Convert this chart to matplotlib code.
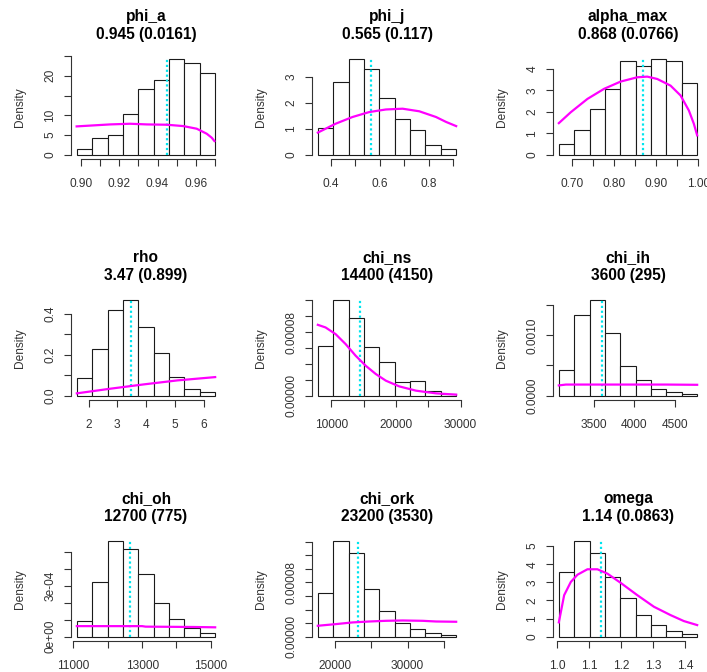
import numpy as np
import matplotlib.pyplot as plt

plt.rcParams['font.family'] = ['Liberation Sans', 'DejaVu Sans']

W, H = 707, 672

params = ['phi_a', 'phi_j', 'alpha_max', 'rho', 'chi_ns', 'chi_ih',
          'chi_oh', 'chi_ork', 'omega']
subtitles = ['0.945 (0.0161)', '0.565 (0.117)', '0.868 (0.0766)', '3.47 (0.899)',
             '14400 (4150)', '3600 (295)', '12700 (775)', '23200 (3530)',
             '1.14 (0.0863)']
post_means = [0.945, 0.565, 0.868, 3.47, 14400, 3600, 12660, 23200, 1.136]

# first and last histogram break (9 equal bins each)
hist_range = [(0.898, 0.970), (0.348, 0.911), (0.6675, 0.9976), (1.593, 6.395),
              (7927, 29326), (3062, 4781), (11098, 15127), (17706, 36651),
              (1.0042, 1.4386)]

# posterior densities
dens_phi_a = [1.35, 4.2, 5.06, 10.3, 16.7, 19.0, 24.3, 23.3, 20.7]
dens_phi_j = [1.01, 2.81, 3.69, 3.31, 2.19, 1.36, 0.96, 0.385, 0.22]
dens_alpha = [0.48, 1.13, 2.11, 3.07, 4.39, 4.14, 4.47, 4.39, 3.35]
dens_rho = [0.0842, 0.23, 0.418, 0.468, 0.337, 0.207, 0.089, 0.032, 0.018]
dens_chi_ns = [6.21e-5, 12.08e-5, 9.81e-5, 6.08e-5, 4.19e-5, 1.68e-5, 1.84e-5, 0.545e-5, 0.21e-5]
dens_chi_ih = [4.23e-4, 1.335e-3, 1.588e-3, 1.044e-3, 4.84e-4, 2.58e-4, 1.04e-4, 5.5e-5, 2.2e-5]
dens_chi_oh = [0.898e-4, 3.22e-4, 5.64e-4, 5.18e-4, 3.69e-4, 1.99e-4, 1.05e-4, 0.53e-4, 0.23e-4]
dens_chi_ork = [6.44e-5, 14.15e-5, 12.29e-5, 7.02e-5, 3.76e-5, 2.0e-5, 1.17e-5, 0.49e-5, 0.24e-5]
dens_omega = [3.57, 5.29, 4.62, 3.30, 2.11, 1.19, 0.64, 0.31, 0.165]

# prior curves
prior_x_phi_a = [0.8979, 0.9066, 0.9153, 0.9257, 0.9344, 0.9448, 0.9534, 0.9604, 0.9656, 0.9682, 0.9696]
prior_y_phi_a = [7.17, 7.42, 7.67, 7.84, 7.67, 7.59, 7.25, 6.58, 5.31, 4.3, 3.46]
prior_x_phi_j = [0.348, 0.420, 0.489, 0.557, 0.625, 0.693, 0.761, 0.829, 0.870, 0.911]
prior_y_phi_j = [0.85, 1.19, 1.45, 1.64, 1.74, 1.77, 1.67, 1.45, 1.26, 1.10]
prior_x_alpha = [0.6675, 0.696, 0.7357, 0.7754, 0.815, 0.8548, 0.8786, 0.9024, 0.9341, 0.958, 0.9778, 0.9897, 0.9976]
prior_y_alpha = [1.47, 1.98, 2.60, 3.07, 3.41, 3.61, 3.64, 3.53, 3.22, 2.76, 2.06, 1.44, 0.90]
prior_x_rho = [1.593, 2.756, 3.919, 5.081, 6.395]
prior_y_rho = [0.0113, 0.034, 0.0551, 0.0745, 0.0907]
prior_x_chi_ns = [7927, 9119, 10674, 12228, 13782, 15337, 16891, 18446, 20518, 23109, 26218, 29326]
prior_y_chi_ns = [8.93e-5, 8.6e-5, 7.76e-5, 6.5e-5, 5.03e-5, 3.77e-5, 2.73e-5, 1.89e-5, 1.17e-5, 0.63e-5, 0.29e-5, 0.13e-5]
prior_x_chi_ih = [3062, 3150, 4400, 4781]
prior_y_chi_ih = [1.70e-4, 1.84e-4, 1.84e-4, 1.80e-4]
prior_x_chi_oh = [11098, 13000, 13100, 14500, 15127]
prior_y_chi_oh = [0.62e-4, 0.62e-4, 0.59e-4, 0.57e-4, 0.55e-4]
prior_x_chi_ork = [17706, 20138, 22431, 24725, 27018, 29312, 32064, 33899, 36651]
prior_y_chi_ork = [1.61e-5, 1.85e-5, 2.10e-5, 2.24e-5, 2.34e-5, 2.39e-5, 2.34e-5, 2.24e-5, 2.2e-5]
prior_x_omega = [1.0042, 1.0209, 1.0418, 1.0627, 1.094, 1.1253, 1.1567, 1.1984, 1.2507, 1.3029, 1.3551, 1.3969, 1.4386]
prior_y_omega = [0.79, 2.29, 3.02, 3.42, 3.72, 3.72, 3.48, 2.97, 2.29, 1.65, 1.19, 0.86, 0.64]

# axis ticks and labels (R drops labels that would overlap)
xticks = [[0.90, 0.91, 0.92, 0.93, 0.94, 0.95, 0.96, 0.97],
          [0.4, 0.5, 0.6, 0.7, 0.8, 0.9],
          [0.70, 0.75, 0.80, 0.85, 0.90, 0.95, 1.00],
          [2, 3, 4, 5, 6],
          [10000, 15000, 20000, 25000, 30000],
          [3500, 4000, 4500],
          [11000, 12000, 13000, 14000, 15000],
          [20000, 25000, 30000, 35000],
          [1.0, 1.1, 1.2, 1.3, 1.4]]
xlabels = [['0.90', '', '0.92', '', '0.94', '', '0.96', ''],
           ['0.4', '', '0.6', '', '0.8', ''],
           ['0.70', '', '0.80', '', '0.90', '', '1.00'],
           ['2', '3', '4', '5', '6'],
           ['10000', '', '20000', '', '30000'],
           ['3500', '4000', '4500'],
           ['11000', '', '13000', '', '15000'],
           ['20000', '', '30000', ''],
           ['1.0', '1.1', '1.2', '1.3', '1.4']]
yticks = [[0, 5, 10, 15, 20, 25],
          [0, 1, 2, 3],
          [0, 1, 2, 3, 4],
          [0, 0.1, 0.2, 0.3, 0.4],
          [0, 2e-5, 4e-5, 6e-5, 8e-5, 1e-4, 1.2e-4],
          [0, 5e-4, 1e-3, 1.5e-3],
          [0, 1e-4, 2e-4, 3e-4, 4e-4, 5e-4],
          [0, 2e-5, 4e-5, 6e-5, 8e-5, 1e-4, 1.2e-4, 1.4e-4],
          [0, 1, 2, 3, 4, 5]]
ylabels = [['0', '5', '10', '', '20', ''],
           ['0', '1', '2', '3'],
           ['0', '1', '2', '3', '4'],
           ['0.0', '', '0.2', '', '0.4'],
           ['0.00000', '', '', '', '0.00008', '', ''],
           ['0.0000', '', '0.0010', ''],
           ['0e+00', '', '', '3e-04', '', ''],
           ['0.00000', '', '', '', '0.00008', '', '', ''],
           ['0', '1', '2', '3', '4', '5']]

dens = [dens_phi_a, dens_phi_j, dens_alpha, dens_rho, dens_chi_ns, dens_chi_ih,
        dens_chi_oh, dens_chi_ork, dens_omega]
prior_x = [prior_x_phi_a, prior_x_phi_j, prior_x_alpha, prior_x_rho, prior_x_chi_ns,
           prior_x_chi_ih, prior_x_chi_oh, prior_x_chi_ork, prior_x_omega]
prior_y = [prior_y_phi_a, prior_y_phi_j, prior_y_alpha, prior_y_rho, prior_y_chi_ns,
           prior_y_chi_ih, prior_y_chi_oh, prior_y_chi_ork, prior_y_omega]

axcol = '#333333'
fig = plt.figure(figsize=(W / 100, H / 100), dpi=100)

for i, name in enumerate(params):
    row, col = divmod(i, 3)
    x0 = 71.3 + 241 * col
    y1 = 158.5 + 241 * row
    ax = fig.add_axes([x0 / W, 1 - y1 / H, 149.4 / W, 103.5 / H])

    lo, hi = hist_range[i]
    edges = np.linspace(lo, hi, len(dens[i]) + 1)
    ax.bar(edges[:-1], dens[i], width=np.diff(edges), align='edge',
           color='white', edgecolor='#1a1a1a', lw=0.8)
    top = max(dens[i])
    ax.vlines(post_means[i], 0, top, colors='#00e5ee', linestyles=(0, (1, 1.2)), lw=1.6)
    ax.plot(prior_x[i], prior_y[i], color='#ff00ff', lw=1.6)

    pad = 0.04 * (hi - lo)
    ax.set_xlim(lo - pad, hi + pad)
    ax.set_ylim(-0.04 * top, 1.04 * top)

    for s in ['top', 'right']:
        ax.spines[s].set_visible(False)
    for s in ['left', 'bottom']:
        ax.spines[s].set_color(axcol)
        ax.spines[s].set_linewidth(0.8)
    ax.spines['bottom'].set_bounds(xticks[i][0], xticks[i][-1])
    ax.spines['left'].set_bounds(yticks[i][0], yticks[i][-1])

    ax.set_xticks(xticks[i])
    ax.set_xticklabels(xlabels[i])
    ax.set_yticks(yticks[i])
    ax.set_yticklabels(ylabels[i], rotation=90, va='center')
    ax.tick_params(length=4.8, width=0.8, color=axcol, labelcolor='#333333',
                   labelsize=8.6)
    ax.tick_params(axis='x', pad=9)
    ax.tick_params(axis='y', pad=6)

    ax.annotate('Density', xy=(0, 0.5), xycoords='axes fraction', xytext=(-37.2, 0),
                textcoords='offset points', rotation=90, ha='center', va='center',
                fontsize=8.6, color='#333333')
    ax.annotate(name, xy=(0.5, 1), xycoords='axes fraction', xytext=(0, 24.5),
                textcoords='offset points', ha='center', va='baseline',
                fontsize=11.2, fontweight='bold')
    ax.annotate(subtitles[i], xy=(0.5, 1), xycoords='axes fraction', xytext=(0, 11.3),
                textcoords='offset points', ha='center', va='baseline',
                fontsize=11.2, fontweight='bold')

fig.savefig('out.png', dpi=100)
